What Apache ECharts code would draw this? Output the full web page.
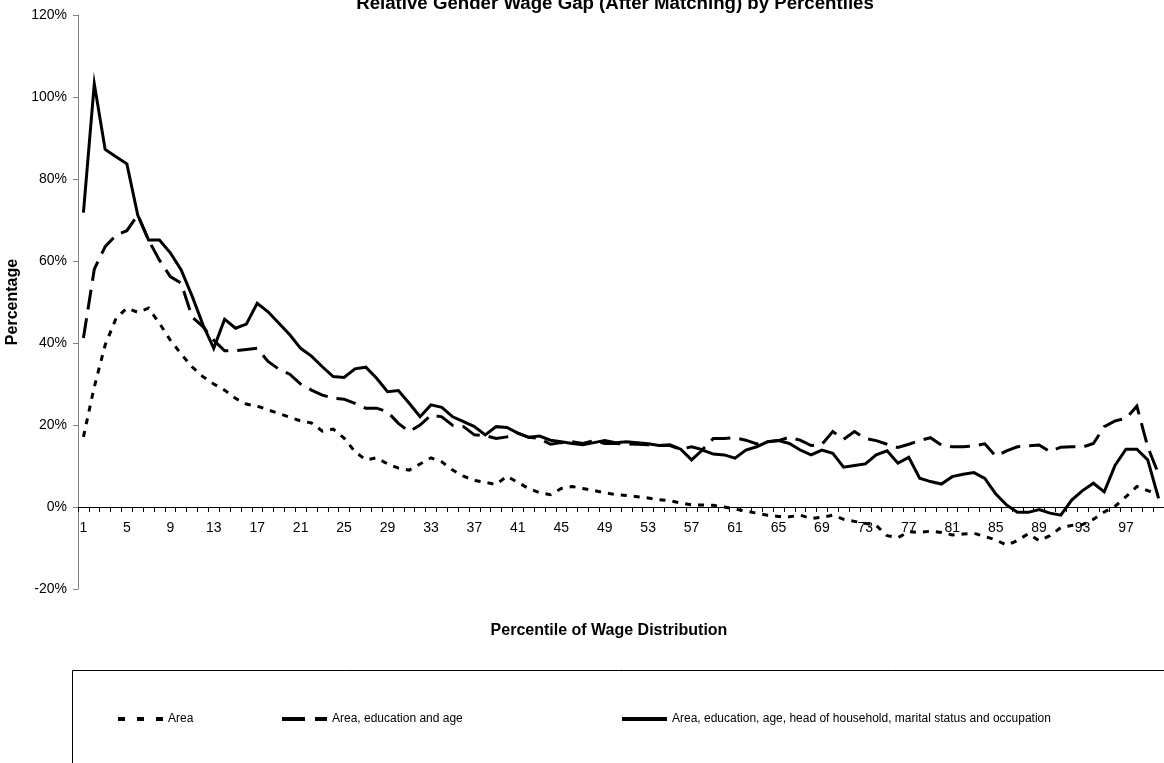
<!DOCTYPE html>
<html>
<head>
<meta charset="utf-8">
<script src="https://cdn.jsdelivr.net/npm/echarts@6/dist/echarts.min.js"></script>
<style>
html,body{margin:0;padding:0;background:#fff;}
#chart{width:1164px;height:763px;}
</style>
</head>
<body>
<div id="chart"></div>
<script>
var percentiles = [];
for (var i = 1; i <= 100; i++) percentiles.push(String(i));

var titleText = 'Relative Gender Wage Gap (After Matching) by Percentiles';
var xName = 'Percentile of Wage Distribution';
var yName = 'Percentage';
var seriesNames = ['Area', 'Area, education and age', 'Area, education, age, head of household, marital status and occupation'];

var area = [17.1,29.3,39.5,46.0,48.5,47.5,48.5,44.8,40.7,37.3,34.2,31.8,30.0,28.5,26.5,25.1,24.6,23.7,22.8,21.9,
21.0,20.5,18.5,19.0,16.8,13.5,11.5,12.0,10.5,9.5,9.0,10.5,12.0,11.0,9.0,7.5,6.5,6.0,5.5,7.5,
6.0,4.5,3.5,3.0,4.5,5.0,4.5,4.0,3.5,3.0,2.8,2.5,2.2,1.8,1.5,1.0,0.5,0.5,0.4,0.0,
-0.5,-1.0,-1.5,-2.0,-2.3,-2.4,-2.0,-2.8,-2.5,-2.0,-3.0,-3.5,-4.0,-4.5,-7.0,-7.5,-6.0,-6.2,-5.9,-6.2,
-6.8,-6.6,-6.4,-7.2,-8.0,-9.3,-8.2,-6.5,-8.2,-7.0,-5.0,-4.5,-4.3,-3.0,-1.2,0.2,2.5,5.0,4.0,3.0];

var areaEduAge = [41.2,58.0,63.5,66.3,67.4,71.2,65.1,60.2,56.2,54.6,46.4,44.0,40.7,38.1,38.1,38.4,38.7,35.5,33.6,32.4,
30.0,28.5,27.3,26.5,26.3,25.3,24.1,24.1,23.2,20.4,18.4,20.0,22.4,22.0,19.9,19.6,17.6,17.4,16.7,17.1,
18.0,17.0,16.7,15.3,15.7,15.9,15.5,16.2,15.5,15.5,15.4,15.3,15.2,15.0,15.0,14.1,14.7,14.0,16.7,16.7,
16.9,16.3,15.4,15.9,16.2,17.0,16.3,15.0,15.3,18.4,16.5,18.4,16.7,16.2,15.3,14.5,15.3,16.2,16.9,15.1,
14.7,14.7,14.9,15.4,12.4,13.7,14.7,14.9,15.1,13.5,14.6,14.7,14.6,15.5,19.6,21.0,21.6,24.6,14.7,8.0];

var fullModel = [71.8,103.2,87.2,85.4,83.7,71.2,65.1,65.1,62.0,57.8,51.5,44.5,38.7,45.8,43.6,44.6,49.7,47.6,44.8,42.0,
38.7,36.8,34.2,31.8,31.6,33.7,34.1,31.4,28.1,28.4,25.3,22.0,24.9,24.3,22.0,20.8,19.6,17.6,19.6,19.4,
18.0,17.0,17.3,16.3,15.9,15.5,15.2,15.7,16.2,15.7,15.9,15.7,15.4,15.0,15.2,14.1,11.5,13.9,12.9,12.7,
11.9,13.9,14.7,15.9,16.2,15.5,13.9,12.7,13.9,13.1,9.7,10.1,10.5,12.7,13.7,10.7,12.1,7.0,6.2,5.6,
7.4,8.0,8.4,7.0,3.2,0.5,-1.3,-1.3,-0.6,-1.5,-2.0,1.7,4.0,5.8,3.7,10.2,14.1,14.1,11.5,2.1];

var FONT = '"Liberation Sans", Arial, sans-serif';

var chart = echarts.init(document.getElementById('chart'), null, {renderer: 'canvas'});

function mkSeries(name, data, type) {
  return {
    name: name, type: 'line', data: data, symbol: 'none', smooth: false,
    lineStyle: {color: '#000', width: 3, type: type, cap: 'butt', join: 'miter'},
    itemStyle: {color: '#000'},
    emphasis: {disabled: true}, animation: false
  };
}
function mkLegend(name, left, dash) {
  return {
    data: [name], left: left, top: 713, padding: 0, itemWidth: 45, itemHeight: 14, itemGap: 0,
    itemStyle: {opacity: 0, borderWidth: 0},
    lineStyle: {width: 4, type: dash, cap: 'butt', color: '#000'},
    textStyle: {fontFamily: FONT, fontSize: 12, color: '#000'},
    selectedMode: false
  };
}

chart.setOption({
  animation: false,
  backgroundColor: '#fff',
  title: {
    text: titleText, left: 610, top: -11, textAlign: 'center',
    textStyle: {fontFamily: FONT, fontSize: 18.67, fontWeight: 'bold', color: '#000'}
  },
  grid: {left: 78, right: 0, top: 15, bottom: 174, containLabel: false, outerBoundsMode: 'none'},
  graphic: [{
    type: 'rect', shape: {x: 72.5, y: 670.5, width: 1200, height: 200},
    style: {fill: 'none', stroke: '#000', lineWidth: 1}, silent: true
  }],
  legend: [
    mkLegend(seriesNames[0], 116, [7, 12]),
    mkLegend(seriesNames[1], 280, [23, 10]),
    mkLegend(seriesNames[2], 620, 'solid')
  ],
  xAxis: {
    type: 'category', data: percentiles, boundaryGap: true, offset: -82,
    name: xName, nameLocation: 'middle', nameGap: 116,
    nameTextStyle: {fontFamily: FONT, fontSize: 16, fontWeight: 'bold', color: '#000', padding: [0, 24, 0, 0]},
    axisLine: {onZero: false, lineStyle: {color: '#000', width: 1}},
    axisTick: {show: true, interval: 0, length: 5, lineStyle: {color: '#000'}},
    axisLabel: {interval: 3, fontFamily: FONT, fontSize: 14, color: '#000', margin: 14},
    splitLine: {show: false}
  },
  yAxis: {
    type: 'value', min: -20, max: 120, interval: 20,
    name: yName, nameLocation: 'middle', nameGap: 52, nameRotate: 90,
    nameTextStyle: {fontFamily: FONT, fontSize: 16, fontWeight: 'bold', color: '#000'},
    axisLine: {show: true, lineStyle: {color: '#808080', width: 1}},
    axisTick: {show: true, length: 5, lineStyle: {color: '#808080'}},
    axisLabel: {formatter: '{value}%', fontFamily: FONT, fontSize: 14, color: '#000', margin: 11},
    splitLine: {show: false}
  },
  series: [
    mkSeries(seriesNames[0], area, [6, 7]),
    mkSeries(seriesNames[1], areaEduAge, [20, 9]),
    mkSeries(seriesNames[2], fullModel, 'solid')
  ]
});
</script>
</body>
</html>
